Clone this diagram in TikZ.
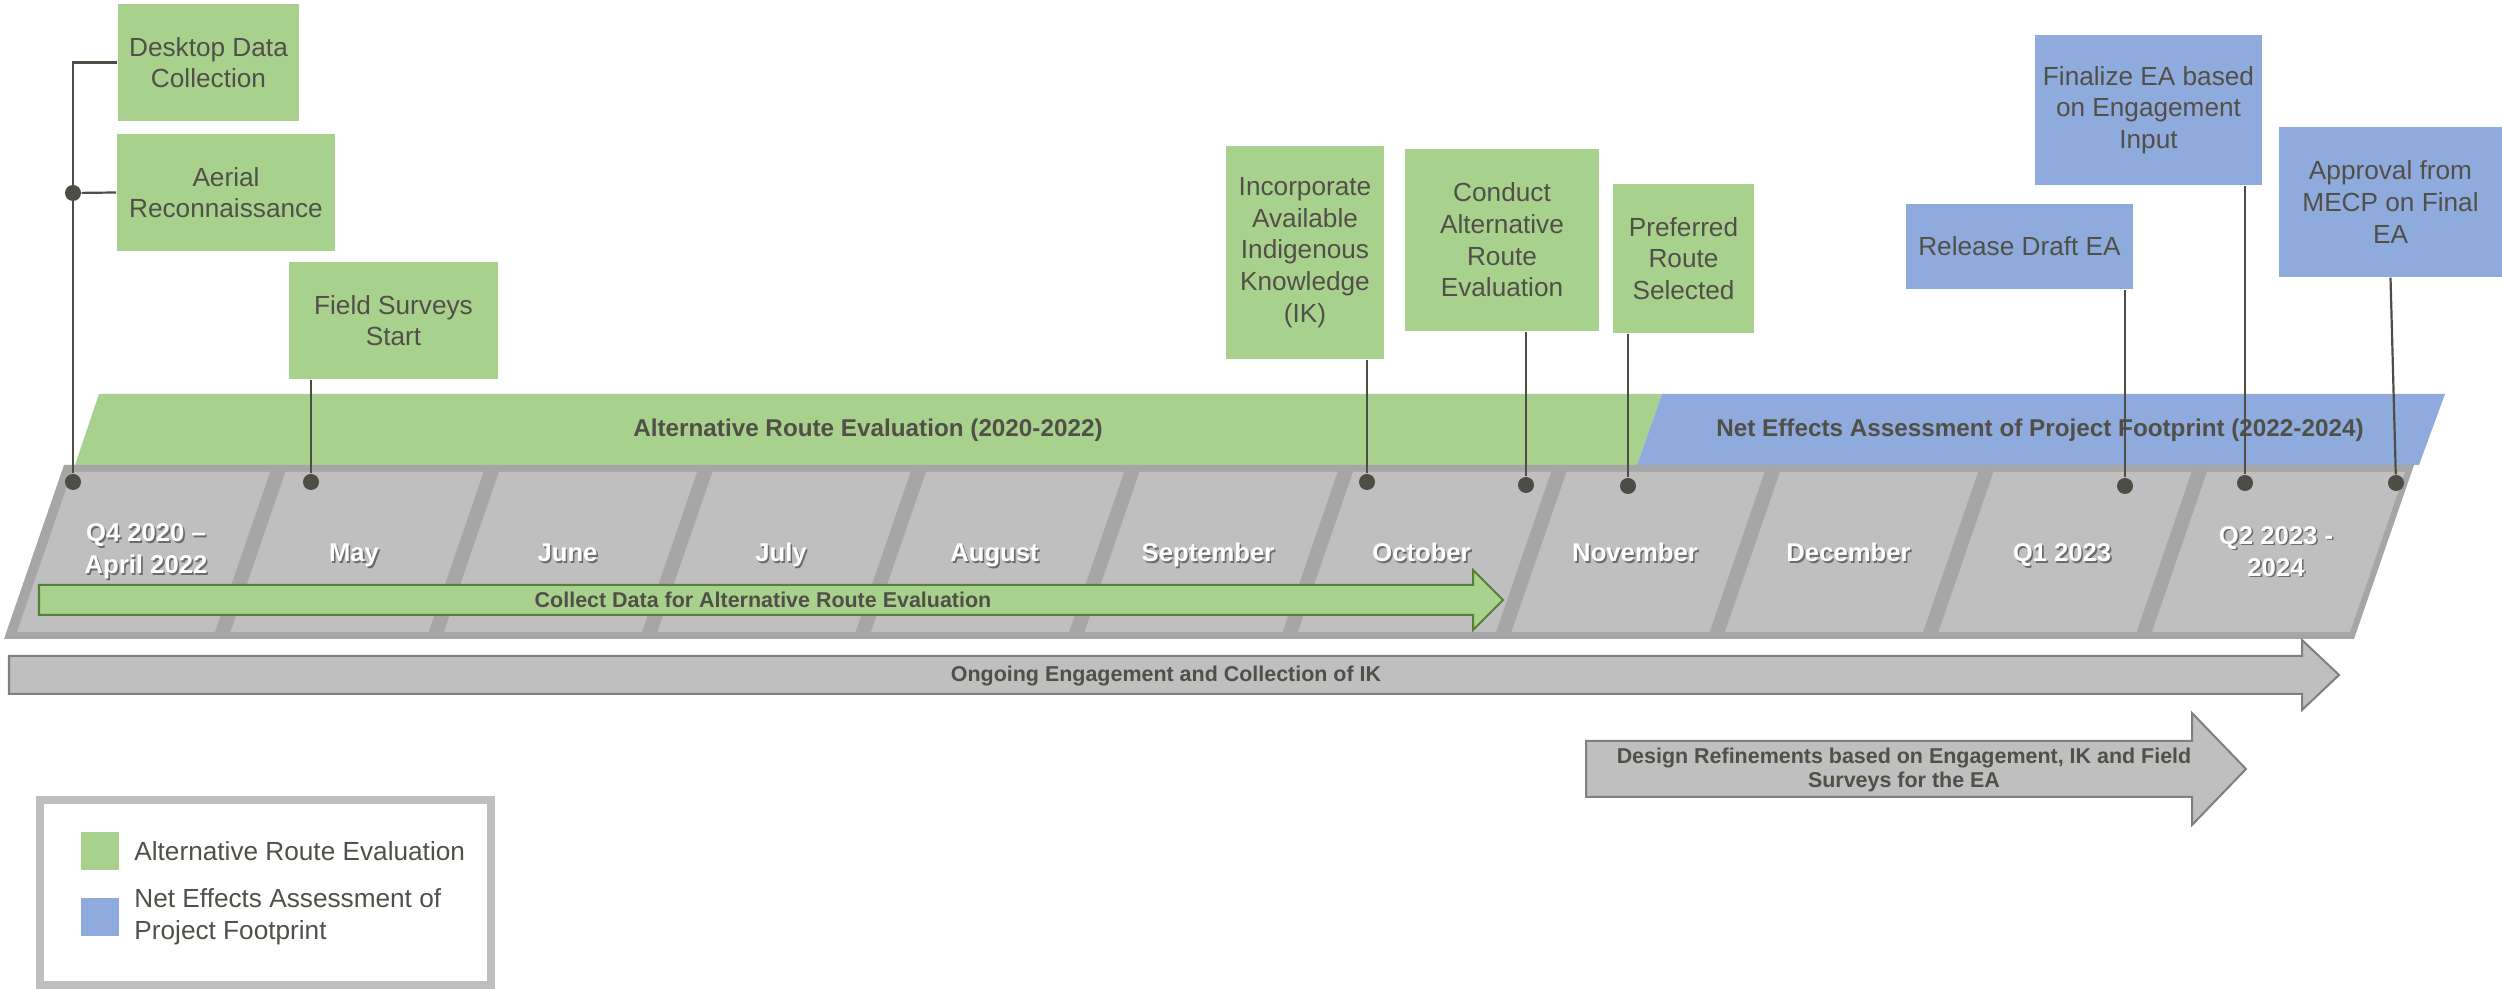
\documentclass[tikz,border=0pt]{standalone}
\usepackage{fontspec}
\setmainfont{Liberation Sans}
\usepackage{tikz}
\usetikzlibrary{positioning}

\definecolor{aregreen}{HTML}{A9D18E}
\definecolor{neeblue}{HTML}{8FAADC}
\definecolor{cellgray}{HTML}{BFBFBF}
\definecolor{tlgray}{HTML}{A6A6A6}
\definecolor{darkline}{HTML}{4D4D45}
\definecolor{labeltext}{HTML}{505049}
\definecolor{arrowedge}{HTML}{7F7F7F}
\definecolor{greenedge}{HTML}{548235}
\definecolor{shade}{HTML}{6B6B6B}

\newcommand\shtxt[1]{\makebox[0pt][l]{\hspace{0.45pt}\raisebox{-0.45pt}{\textcolor{shade}{#1}}}#1}

\tikzset{
  callout/.style={rectangle, inner sep=0pt, text=labeltext, align=center, font=\fontsize{7.45}{9}\selectfont},
  arebox/.style={callout, fill=aregreen},
  neebox/.style={callout, fill=neeblue},
  conn/.style={draw=darkline, line width=0.022cm},
  tdot/.style={circle, fill=darkline, inner sep=0pt, minimum size=0.16cm},
  month/.style={text=white, align=center, font=\bfseries\fontsize{7.3}{9.1}\selectfont},
  bandlbl/.style={text=labeltext, font=\bfseries\fontsize{6.9}{8}\selectfont},
  arrlbl/.style={text=labeltext, align=center, font=\bfseries\fontsize{6.1}{7}\selectfont},
  legtxt/.style={text=labeltext, align=left, inner sep=0pt, font=\fontsize{7.45}{9.1}\selectfont},
  swatch/.style={inner sep=0pt, minimum size=0.38cm}
}

\begin{document}
\begin{tikzpicture}[x=0.01cm, y=-0.01cm]
  \useasboundingbox (0,0) rectangle (2502,989);

  \fill[aregreen] (99,394) -- (1662,394) -- (1637,465) -- (75,465) -- cycle;
  \fill[neeblue] (1662,394) -- (2445,394) -- (2419,465) -- (1637,465) -- cycle;
  \node[bandlbl] (arelbl) at (868,430) {Alternative Route Evaluation (2020-2022)};
  \node[bandlbl] (neelbl) at (2040,430) {Net Effects Assessment of Project Footprint (2022-2024)};

  \fill[tlgray] (64,465) -- (2414,465) -- (2354,639) -- (4,639) -- cycle;
  \foreach \k in {0,...,10}
    \fill[cellgray] ({72+213.5*\k},472) -- ({270+213.5*\k},472) -- ({215+213.5*\k},632) -- ({17+213.5*\k},632) -- cycle;

  \node[month] (q4) at (146,552) {\shtxt{Q4 2020 --}\\\shtxt{April 2022}};
  \foreach \m [count=\i] in {May,June,July,August,September,October,November,December,Q1 2023}
    \node[month, anchor=base] (mon\i) at ({140.5+213.5*\i},562) {\shtxt{\m}};
  \node[month] (q2) at (2276,552) {\shtxt{Q2 2023 -}\\\shtxt{2024}};

  \filldraw[fill=aregreen, draw=greenedge, line width=0.02cm] (39,585) -- (1473,585) -- (1473,570) -- (1503,600) -- (1473,630) -- (1473,615) -- (39,615) -- cycle;
  \node[arrlbl] (collect) at (763,600) {Collect Data for Alternative Route Evaluation};

  \filldraw[fill=cellgray, draw=arrowedge, line width=0.02cm] (9,656) -- (2302,656) -- (2302,640) -- (2339,675) -- (2302,710) -- (2302,694) -- (9,694) -- cycle;
  \node[arrlbl] (ongoing) at (1166,676) {Ongoing Engagement and Collection of IK};

  \filldraw[fill=cellgray, draw=arrowedge, line width=0.02cm] (1586,741) -- (2192,741) -- (2192,713) -- (2246,769) -- (2192,825) -- (2192,797) -- (1586,797) -- cycle;
  \node[arrlbl] (design) at (1904,770) {Design Refinements based on Engagement, IK and Field\\Surveys for the EA};

  \node[arebox, minimum width=1.81cm, minimum height=1.17cm] (desk) at (208.5,62.5) {Desktop Data\\Collection};
  \node[arebox, minimum width=2.18cm, minimum height=1.17cm] (aer) at (226,192.5) {Aerial\\Reconnaissance};
  \node[arebox, minimum width=2.09cm, minimum height=1.17cm] (field) at (393.5,320.5) {Field Surveys\\Start};
  \node[arebox, minimum width=1.58cm, minimum height=2.13cm] (ik) at (1305,252.5) {Incorporate\\Available\\Indigenous\\Knowledge\\(IK)};
  \node[arebox, minimum width=1.94cm, minimum height=1.82cm] (conduct) at (1502,240) {Conduct\\Alternative\\Route\\Evaluation};
  \node[arebox, minimum width=1.41cm, minimum height=1.49cm] (pref) at (1683.5,258.5) {Preferred\\Route\\Selected};
  \node[neebox, minimum width=2.27cm, minimum height=0.85cm] (draft) at (2019.5,246.5) {Release Draft EA};
  \node[neebox, minimum width=2.27cm, minimum height=1.50cm] (final) at (2148.5,110) {Finalize EA based\\on Engagement\\Input};
  \node[neebox, minimum width=2.23cm, minimum height=1.50cm] (appr) at (2390.5,202) {Approval from\\MECP on Final\\EA};

  \node[tdot] (d0) at (73,482) {};
  \node[tdot] (dair) at (73,193) {};
  \node[tdot] (dfield) at (311,482) {};
  \node[tdot] (dik) at (1367,482) {};
  \node[tdot] (dconduct) at (1526,485) {};
  \node[tdot] (dpref) at (1628,486) {};
  \node[tdot] (ddraft) at (2125,486) {};
  \node[tdot] (dfinal) at (2245,483) {};
  \node[tdot] (dappr) at (2396,483) {};

  \draw[conn] (desk.west) -| (d0);
  \draw[conn] (aer.west) -- (dair);
  \draw[conn] (field.south -| dfield) -- (dfield);
  \draw[conn] (ik.south -| dik) -- (dik);
  \draw[conn] (conduct.south -| dconduct) -- (dconduct);
  \draw[conn] (pref.south -| dpref) -- (dpref);
  \draw[conn] (draft.south -| ddraft) -- (ddraft);
  \draw[conn] (final.south -| dfinal) -- (dfinal);
  \draw[conn] (appr.south) -- (dappr);

  \draw[cellgray, line width=0.08cm] (40,800) rectangle (491,985);
  \node[swatch, fill=aregreen] (lgare) at (100,851) {};
  \node[legtxt, right=0.14cm of lgare] (lgaretxt) {Alternative Route Evaluation};
  \node[swatch, fill=neeblue] (lgnee) at (100,917) {};
  \node[legtxt, right=0.14cm of lgnee] (lgneetxt) {Net Effects Assessment of\\Project Footprint};
\end{tikzpicture}
\end{document}
